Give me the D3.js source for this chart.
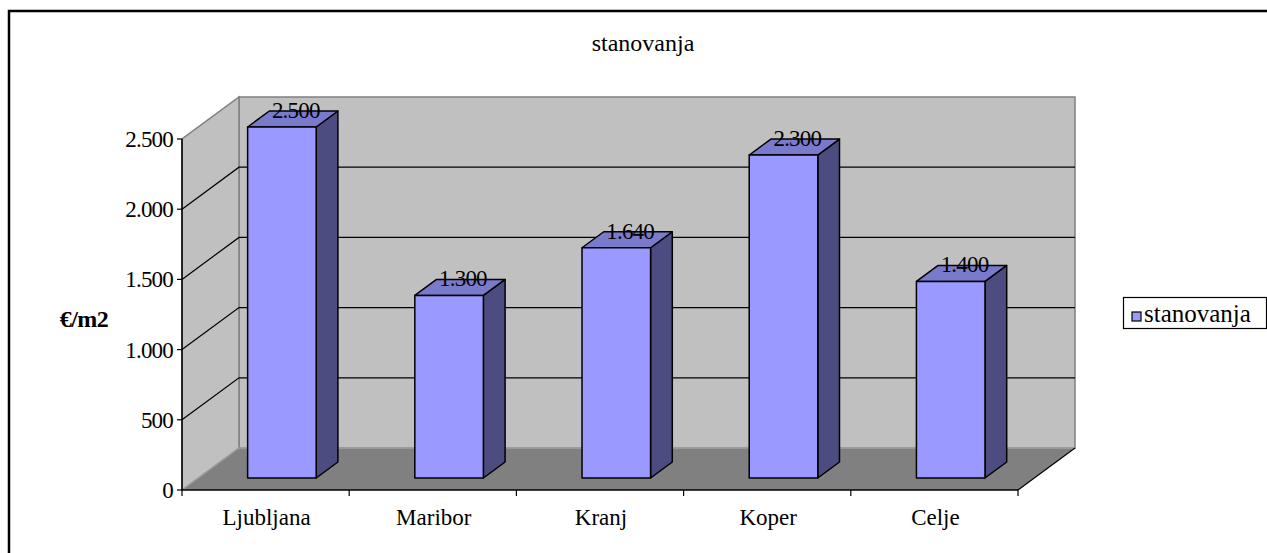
<!DOCTYPE html>
<html>
<head>
<meta charset="utf-8">
<script src="https://cdn.jsdelivr.net/npm/d3@7"></script>
<style>
  html, body { margin: 0; padding: 0; background: #fff; }
  svg { display: block; }
</style>
</head>
<body>
<svg id="chart" width="1267" height="553"></svg>
<script>
// Housing prices per m2 by city
const categories = ["Ljubljana", "Maribor", "Kranj", "Koper", "Celje"];
const values = [2500, 1300, 1640, 2300, 1400];
const yTicks = [0, 500, 1000, 1500, 2000, 2500];
const seriesName = "stanovanja";
const chartTitle = "stanovanja";
const yTitle = "€/m2";

// Pick the first installed serif face (Times-like), else a sans fallback
function pickFont(candidates, fallback) {
  const ctx = document.createElement("canvas").getContext("2d");
  const sample = "stanovanja Ljubljana 2.500 mmmWWWiii";
  const widthOf = fam => { ctx.font = "40px " + fam; return ctx.measureText(sample).width; };
  const baseMono = widthOf("monospace"), baseSans = widthOf("sans-serif");
  for (const c of candidates) {
    const a = widthOf(`'${c}', monospace`), b = widthOf(`'${c}', sans-serif`);
    if (a !== baseMono || b !== baseSans) return `'${c}', ${fallback}`;
  }
  return fallback;
}
const FONT = pickFont(
  ["Liberation Serif", "Tinos", "Times New Roman", "Times", "DejaVu Serif", "Noto Serif", "FreeSerif"],
  "'Liberation Sans', Arial, sans-serif"
);
const svg = d3.select("#chart").attr("font-family", FONT);

// Slovenian-style number formatting (1.500)
const locale = d3.formatLocale({ decimal: ",", thousands: ".", grouping: [3], currency: ["", " €"] });
const fmt = locale.format(",d");

// Front plane of the 3D plot box
const plot = { left: 182, right: 1018, bottom: 490, top: 139 };
// Depth offset from front plane to back wall
const DX = 57, DY = 42;
// Depth range occupied by the bars (fraction of the box depth)
const T0 = 0.286, T1 = 0.667;

const x = d3.scaleBand().domain(categories).range([plot.left, plot.right]).paddingInner(0).paddingOuter(0);
const y = d3.scaleLinear().domain([0, 2500]).range([plot.bottom, plot.top]);

const P = (xf, v, t) => [xf + t * DX, y(v) - t * DY];
const poly = pts => "M" + pts.map(p => p.join(",")).join("L") + "Z";

// Outer frame
svg.append("rect")
  .attr("x", 9).attr("y", 11).attr("width", 1400).attr("height", 700)
  .attr("fill", "none").attr("stroke", "#000").attr("stroke-width", 2.5);

// Title
svg.append("text")
  .attr("x", 643).attr("y", 51)
  .attr("text-anchor", "middle")
  .style("font-size", "24px")
  .text(chartTitle);

const g = svg.append("g");
const yMax = y.domain()[1];

// Back wall
g.append("path")
  .attr("d", poly([P(plot.left, 0, 1), P(plot.right, 0, 1), P(plot.right, yMax, 1), P(plot.left, yMax, 1)]))
  .attr("fill", "#c0c0c0").attr("stroke", "#808080").attr("stroke-width", 1.5);

// Side wall
g.append("path")
  .attr("d", poly([P(plot.left, 0, 0), P(plot.left, 0, 1), P(plot.left, yMax, 1), P(plot.left, yMax, 0)]))
  .attr("fill", "#c0c0c0").attr("stroke", "#808080").attr("stroke-width", 1.5);

// Floor
g.append("path")
  .attr("d", poly([P(plot.left, 0, 0), P(plot.left, 0, 1), P(plot.right, 0, 1), P(plot.right, 0, 0)]))
  .attr("fill", "#808080").attr("stroke", "none");
g.append("line")
  .attr("x1", P(plot.left, 0, 1)[0]).attr("y1", P(plot.left, 0, 1)[1])
  .attr("x2", P(plot.right, 0, 1)[0]).attr("y2", P(plot.right, 0, 1)[1])
  .attr("stroke", "#a0a0a0").attr("stroke-width", 1.5);
g.append("line")
  .attr("x1", P(plot.left, 0, 0)[0]).attr("y1", P(plot.left, 0, 0)[1])
  .attr("x2", P(plot.left, 0, 1)[0]).attr("y2", P(plot.left, 0, 1)[1])
  .attr("stroke", "#a0a0a0").attr("stroke-width", 1.2);
g.append("line")
  .attr("x1", P(plot.right, 0, 0)[0]).attr("y1", P(plot.right, 0, 0)[1])
  .attr("x2", P(plot.right, 0, 1)[0]).attr("y2", P(plot.right, 0, 1)[1])
  .attr("stroke", "#000").attr("stroke-width", 1.2);

// Gridlines on side wall and back wall
const grid = yTicks.filter(v => v > 0 && v < yMax);
grid.forEach(v => {
  const a = P(plot.left, v, 0), b = P(plot.left, v, 1), c = P(plot.right, v, 1);
  g.append("path")
    .attr("d", `M${a}L${b}L${c}`)
    .attr("fill", "none").attr("stroke", "#000").attr("stroke-width", 1.2);
});

// Bars as 3D columns
const barW = x.bandwidth() * 0.41;
const bars = g.append("g");
categories.forEach((c, i) => {
  const v = values[i];
  const x0 = x(c) + (x.bandwidth() - barW) / 2, x1 = x0 + barW;
  const bg = bars.append("g");
  bg.append("path")
    .attr("d", poly([P(x1, 0, T0), P(x1, 0, T1), P(x1, v, T1), P(x1, v, T0)]))
    .attr("fill", "#4c4c80").attr("stroke", "#000").attr("stroke-width", 1.5).attr("stroke-linejoin", "round");
  bg.append("path")
    .attr("d", poly([P(x0, v, T0), P(x1, v, T0), P(x1, v, T1), P(x0, v, T1)]))
    .attr("fill", "#7a7acc").attr("stroke", "#000").attr("stroke-width", 1.5).attr("stroke-linejoin", "round");
  bg.append("path")
    .attr("d", poly([P(x0, 0, T0), P(x1, 0, T0), P(x1, v, T0), P(x0, v, T0)]))
    .attr("fill", "#9999ff").attr("stroke", "#000").attr("stroke-width", 1.5).attr("stroke-linejoin", "round");
  const xm = (x0 + x1) / 2;
  const lp = P(xm, v, (T0 + T1) / 2);
  bg.append("text")
    .attr("x", lp[0] + 3).attr("y", P(xm, v, T1)[1] + 7)
    .attr("text-anchor", "middle")
    .style("font-size", "23px").style("letter-spacing", "-0.8px")
    .text(fmt(v));
});

// Y axis (front edge of the side wall)
const yAxis = svg.append("g");
yAxis.append("line")
  .attr("x1", plot.left).attr("x2", plot.left)
  .attr("y1", y(0)).attr("y2", y(yMax))
  .attr("stroke", "#000").attr("stroke-width", 1.5);
yTicks.forEach(v => {
  yAxis.append("line")
    .attr("x1", plot.left - 5).attr("x2", plot.left)
    .attr("y1", y(v)).attr("y2", y(v))
    .attr("stroke", "#000").attr("stroke-width", 1.2);
  yAxis.append("text")
    .attr("x", plot.left - 9).attr("y", y(v) + 8)
    .attr("text-anchor", "end")
    .style("font-size", "23px").style("letter-spacing", "-0.8px")
    .text(fmt(v));
});

// X axis (front edge of the floor)
const xAxis = svg.append("g");
xAxis.append("line")
  .attr("x1", plot.left).attr("x2", plot.right)
  .attr("y1", plot.bottom).attr("y2", plot.bottom)
  .attr("stroke", "#000").attr("stroke-width", 1.5);
[plot.left, ...categories.map(c => x(c) + x.bandwidth())].forEach(xv => {
  xAxis.append("line")
    .attr("x1", xv).attr("x2", xv)
    .attr("y1", plot.bottom).attr("y2", plot.bottom + 6)
    .attr("stroke", "#000").attr("stroke-width", 1.2);
});
categories.forEach(c => {
  xAxis.append("text")
    .attr("x", x(c) + x.bandwidth() / 2 + 1).attr("y", 525)
    .attr("text-anchor", "middle")
    .style("font-size", "23px")
    .text(c);
});

// Y axis title
svg.append("text")
  .attr("x", 84).attr("y", 327)
  .attr("text-anchor", "middle")
  .style("font-size", "24px").style("font-weight", "bold").style("letter-spacing", "-0.5px")
  .text(yTitle);

// Legend
const lg = svg.append("g");
lg.append("rect")
  .attr("x", 1123.5).attr("y", 297.5).attr("width", 143).attr("height", 31)
  .attr("fill", "#fff").attr("stroke", "#000").attr("stroke-width", 1.2);
lg.append("rect")
  .attr("x", 1132).attr("y", 312).attr("width", 9).attr("height", 9)
  .attr("fill", "#9999ff").attr("stroke", "#000").attr("stroke-width", 1.2);
lg.append("text")
  .attr("x", 1144).attr("y", 322)
  .style("font-size", "25px")
  .text(seriesName);
</script>
</body>
</html>
